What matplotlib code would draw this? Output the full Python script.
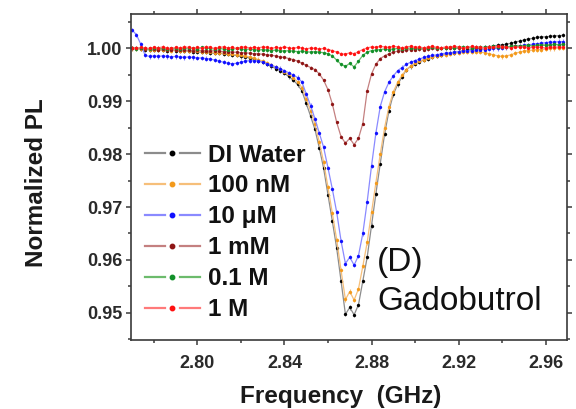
import numpy as np
import matplotlib
matplotlib.use("Agg")
import matplotlib.pyplot as plt
from matplotlib.legend_handler import HandlerBase
from matplotlib.lines import Line2D
from matplotlib.ticker import MultipleLocator

plt.rcParams['font.family'] = ['Liberation Sans', 'DejaVu Sans']

# ---------------- data ----------------
freq = np.round(np.arange(100) * 0.002 + 2.770, 3)  # GHz sweep

di_water = [1.0000, 1.0001, 0.9999, 0.9998, 0.9998, 0.9997, 0.9998, 0.9997, 0.9996, 0.9997,
            0.9996, 0.9995, 0.9996, 0.9995, 0.9994, 0.9994,
            0.9993, 0.9993, 0.9992, 0.9991, 0.9991, 0.9990, 0.9989, 0.9988, 0.9987, 0.9985,
            0.9984, 0.9982, 0.9980, 0.9977, 0.9974,
            0.9970, 0.9966, 0.9962, 0.9958, 0.9953, 0.9947, 0.9940, 0.9932, 0.9920, 0.9896,
            0.9872, 0.9847, 0.9812, 0.9773, 0.9723, 0.9673, 0.9622, 0.9560, 0.9497, 0.9510,
            0.9496, 0.9515, 0.9560, 0.9605, 0.9665, 0.9725, 0.9782, 0.9838, 0.9882, 0.9913,
            0.9932, 0.9946, 0.9960, 0.9966, 0.9971, 0.9975, 0.9978, 0.9981, 0.9984, 0.9986,
            0.9987, 0.9989, 0.9991, 0.9992, 0.9994, 0.9996, 0.9997, 0.9998, 1.0000, 1.0001,
            1.0002, 1.0003, 1.0005, 1.0006, 1.0007, 1.0008, 1.0010, 1.0012, 1.0014, 1.0016,
            1.0018, 1.0019, 1.0021, 1.0022, 1.0022, 1.0023, 1.0024, 1.0024, 1.0025]

nm100 = [1.0000, 1.0000, 0.9999, 0.9999, 0.9998, 0.9998, 0.9997, 0.9998, 0.9997, 0.9996,
         0.9997, 0.9996, 0.9995, 0.9996, 0.9995, 0.9995,
         0.9994, 0.9994, 0.9993, 0.9992, 0.9992, 0.9991, 0.9990, 0.9989, 0.9988, 0.9987,
         0.9986, 0.9984, 0.9982, 0.9979, 0.9976,
         0.9973, 0.9969, 0.9965, 0.9961, 0.9956, 0.9951, 0.9945, 0.9937, 0.9926, 0.9905,
         0.9882, 0.9857, 0.9823, 0.9785, 0.9737, 0.9688, 0.9638, 0.9580, 0.9525, 0.9540,
         0.9524, 0.9545, 0.9588, 0.9633, 0.9690, 0.9746, 0.9800, 0.9850, 0.9890, 0.9918,
         0.9936, 0.9949, 0.9960, 0.9967, 0.9972, 0.9976, 0.9979, 0.9982, 0.9984, 0.9986,
         0.9987, 0.9988, 0.9990, 0.9991, 0.9992, 0.9993, 0.9993, 0.9994, 0.9994, 0.9993,
         0.9992, 0.9990, 0.9988, 0.9986, 0.9985, 0.9986, 0.9988, 0.9991, 0.9993, 0.9995,
         0.9996, 0.9997, 0.9998, 0.9998, 0.9999, 1.0000, 1.0000, 1.0001, 1.0001]

um10 = [1.0035, 1.0026, 1.0008, 0.9987, 0.9985, 0.9986, 0.9985, 0.9986, 0.9985, 0.9984,
        0.9985, 0.9984, 0.9983, 0.9984, 0.9983, 0.9982,
        0.9982, 0.9981, 0.9980, 0.9978, 0.9976, 0.9974, 0.9972, 0.9971, 0.9972, 0.9974,
        0.9976, 0.9977, 0.9977, 0.9976, 0.9974, 0.9971, 0.9968,
        0.9965, 0.9962, 0.9958, 0.9954, 0.9950, 0.9945, 0.9937, 0.9914, 0.9892, 0.9867,
        0.9840, 0.9813, 0.9774, 0.9734, 0.9690, 0.9636, 0.9593, 0.9605, 0.9590, 0.9608,
        0.9650, 0.9710, 0.9778, 0.9840, 0.9890, 0.9918, 0.9936, 0.9948, 0.9958, 0.9964,
        0.9970, 0.9974, 0.9977, 0.9980, 0.9983, 0.9985, 0.9987, 0.9988, 0.9990, 0.9991,
        0.9992, 0.9993, 0.9994, 0.9995, 0.9996, 0.9996, 0.9997, 0.9998, 0.9998, 0.9999,
        1.0000, 1.0000, 1.0001, 1.0002, 1.0003, 1.0004, 1.0005, 1.0006, 1.0007, 1.0008,
        1.0009, 1.0010, 1.0011, 1.0012, 1.0012, 1.0013, 1.0013]

mm1 = [1.0001, 1.0000, 1.0000, 0.9999, 1.0000, 0.9999, 0.9998, 0.9999, 0.9998, 0.9998,
       0.9997, 0.9998, 0.9997, 0.9997, 0.9996, 0.9997,
       0.9996, 0.9996, 0.9995, 0.9996, 0.9995, 0.9994, 0.9994, 0.9993, 0.9993, 0.9992,
       0.9992, 0.9991, 0.9990, 0.9990, 0.9989,
       0.9988, 0.9987, 0.9986, 0.9984, 0.9983, 0.9981, 0.9979, 0.9976, 0.9972, 0.9968,
       0.9964, 0.9960, 0.9952, 0.9940, 0.9922, 0.9895, 0.9860, 0.9833, 0.9821, 0.9830,
       0.9818, 0.9830, 0.9858, 0.9920, 0.9952, 0.9970, 0.9981, 0.9986, 0.9990, 0.9993,
       0.9995, 0.9996, 0.9997, 0.9998,
       0.9998, 0.9999, 0.9998, 0.9999, 1.0000, 0.9999, 1.0000, 1.0001, 1.0000, 1.0001,
       1.0000, 1.0001, 1.0002, 1.0001, 1.0002, 1.0001, 1.0002, 1.0003, 1.0002, 1.0003,
       1.0004, 1.0003, 1.0004, 1.0005, 1.0004, 1.0005, 1.0006, 1.0005, 1.0006, 1.0007,
       1.0006, 1.0007, 1.0008, 1.0007, 1.0008]

m01 = [1.0000, 0.9999, 1.0001, 1.0000, 0.9999, 1.0000, 1.0001, 1.0000, 0.9999, 1.0000,
       1.0000, 0.9999, 1.0000, 1.0001, 1.0000, 0.9999,
       1.0002, 1.0001, 1.0000, 0.9999, 1.0000, 0.9999, 0.9998, 0.9999, 1.0000, 0.9999,
       0.9998, 0.9999, 0.9998, 0.9997, 0.9998,
       0.9997, 0.9996, 0.9997, 0.9996, 0.9995, 0.9996, 0.9995, 0.9994, 0.9995, 0.9994,
       0.9993, 0.9994, 0.9993, 0.9992, 0.9990,
       0.9986, 0.9978, 0.9970, 0.9966, 0.9972, 0.9965, 0.9976, 0.9987, 0.9993, 0.9996,
       0.9997, 0.9998, 0.9999, 0.9998, 0.9999, 1.0000, 0.9999, 1.0000, 1.0001, 1.0000,
       1.0001, 1.0000, 1.0001, 1.0002, 1.0001, 1.0000, 1.0001, 1.0002, 1.0001, 1.0002,
       1.0003, 1.0002, 1.0001, 1.0002, 1.0003, 1.0002, 1.0003, 1.0004, 1.0003, 1.0002,
       1.0003, 1.0004, 1.0005, 1.0004, 1.0005, 1.0006, 1.0005, 1.0006, 1.0007, 1.0006,
       1.0007, 1.0008, 1.0007, 1.0008]

m1 = [1.0001, 1.0000, 1.0002, 1.0001, 1.0000, 1.0002, 1.0001, 1.0003, 1.0001, 1.0000,
      1.0002, 1.0001, 1.0003, 1.0002, 1.0000, 1.0002,
      1.0001, 1.0003, 1.0002, 1.0000, 1.0002, 1.0003, 1.0001, 1.0002, 1.0000, 1.0002,
      1.0003, 1.0001, 1.0002, 1.0001, 1.0003,
      1.0002, 1.0000, 1.0002, 1.0001, 1.0003, 1.0001, 1.0000, 1.0002, 1.0001, 0.9999,
      1.0001, 1.0000, 0.9999, 1.0000, 0.9998,
      0.9996, 0.9993, 0.9990, 0.9989, 0.9992, 0.9990, 0.9994, 0.9998, 1.0001, 1.0003,
      1.0002, 1.0004, 1.0003, 1.0002, 1.0004, 1.0003, 1.0001, 1.0003, 1.0004, 1.0002,
      1.0003, 1.0001, 1.0003, 1.0004, 1.0002, 1.0001, 1.0003, 1.0002, 1.0004, 1.0003,
      1.0001, 1.0002, 1.0004, 1.0003, 1.0002, 1.0001, 1.0003, 1.0002, 1.0004, 1.0003,
      1.0002, 1.0001, 1.0003, 1.0002, 1.0003, 1.0001, 1.0002, 1.0003, 1.0002, 1.0001,
      1.0003, 1.0002, 1.0003, 1.0002]

labels = ['DI Water', '100 nM', '10 \u03bcM', '1 mM', '0.1 M', '1 M']
series = [di_water, nm100, um10, mm1, m01, m1]
errors = [0.0004, 0.0004, 0.0004, 0.0003, 0.0003, 0.0003]
marker_colors = ['#000000', '#f39a1c', '#1010ff', '#8e1515', '#12902a', '#ff1010']
line_colors = ['#8c8c8c', '#f6bf7a', '#8a8aff', '#c48080', '#6cbb6c', '#ff7a7a']

xticks = [2.80, 2.84, 2.88, 2.92, 2.96]
yticks = [0.95, 0.96, 0.97, 0.98, 0.99, 1.00]

# ---------------- figure ----------------
fig = plt.figure(figsize=(5.76, 4.09), dpi=100)
ax = fig.add_axes([131/576, 1-339.5/409, (567-131)/576, (339.5-13.5)/409])

for y, e, mc, lc in zip(series, errors, marker_colors, line_colors):
    ax.errorbar(freq, y, yerr=e, fmt='-o', color=lc, ecolor=lc, elinewidth=0.8,
                capsize=1.2, capthick=0.8, lw=0.9, ms=2.4, mfc=mc, mec=mc, mew=0)

ax.set_xlim(2.7695, 2.9698)
ax.set_ylim(0.94493, 1.00662)
ax.set_xticks(xticks)
ax.set_yticks(yticks)
ax.xaxis.set_minor_locator(MultipleLocator(0.02))
ax.yaxis.set_minor_locator(MultipleLocator(0.005))
ax.set_xticklabels([f'{t:.2f}' for t in xticks])
ax.set_yticklabels([f'{t:.2f}' for t in yticks])

spine_c = '#3a3a3a'
for s in ax.spines.values():
    s.set_color(spine_c)
    s.set_linewidth(1.2)
ax.tick_params(which='both', direction='out', colors=spine_c, labelcolor='#2a2a2a',
               top=True, right=True, width=1.1)
ax.tick_params(which='major', length=3.5)
ax.tick_params(which='minor', length=2.2)
ax.tick_params(axis='x', which='both', pad=7.5)
ax.tick_params(axis='y', which='both', pad=2.5)
for lab in ax.get_xticklabels() + ax.get_yticklabels():
    lab.set_fontweight('bold')
    lab.set_fontsize(13)

ax.set_xlabel('Frequency  (GHz)', fontsize=17.5, fontweight='bold', color='#1a1a1a')
ax.xaxis.set_label_coords((341-131)/436, -(396.7-339.5)/326)
ax.xaxis.label.set_verticalalignment('center')
ax.set_ylabel('Normalized PL', fontsize=17.5, fontweight='bold', color='#1a1a1a')
ax.yaxis.set_label_coords((36.6-131)/436, 1-(182.5-13.5)/326)
ax.yaxis.label.set_verticalalignment('center')


class Key:
    def __init__(self, lc, mc):
        self.lc = lc
        self.mc = mc


class KeyHandler(HandlerBase):
    def create_artists(self, legend, h, xd, yd, w, hgt, fs, trans):
        y = hgt / 2 - yd
        x0 = -xd
        a = Line2D([x0, x0 + 0.36 * w], [y, y], color=h.lc, lw=1.6, transform=trans)
        b = Line2D([x0 + 0.64 * w, x0 + w], [y, y], color=h.lc, lw=1.6, transform=trans)
        m = Line2D([x0 + 0.5 * w], [y], marker='o', ms=3.2, color=h.mc, ls='none',
                   transform=trans)
        return [a, b, m]


keys = [Key(lc, mc) for lc, mc in zip(line_colors, marker_colors)]
leg = ax.legend(keys, labels, handler_map={Key: KeyHandler()},
                loc='upper left', bbox_to_anchor=(145/576, 1-143.6/409),
                bbox_transform=fig.transFigure, frameon=False, borderpad=0,
                borderaxespad=0, handlelength=2.26, handletextpad=0.33,
                labelspacing=0.325, prop={'weight': 'bold', 'size': 17.5})
for t in leg.get_texts():
    t.set_color('#111111')

fig.text(377/576, 1-263/409, '(D)', fontsize=24, ha='left', va='center', color='#111111')
fig.text(377/576, 1-301.7/409, 'Gadobutrol', fontsize=24, ha='left', va='center',
         color='#111111')

fig.savefig('out.png', dpi=100)
